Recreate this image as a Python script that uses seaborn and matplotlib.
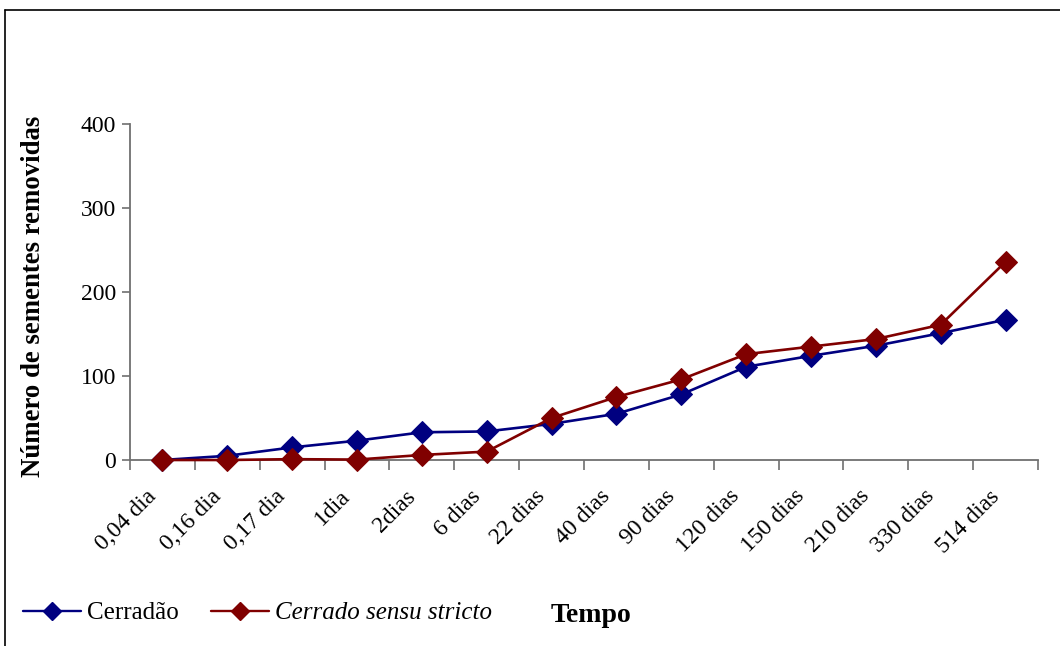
import numpy as np
import pandas as pd
import matplotlib
matplotlib.use("Agg")
import matplotlib.pyplot as plt
from matplotlib.lines import Line2D
from matplotlib.transforms import ScaledTranslation
import seaborn as sns

# Time points after seed offering
tempos = ["0,04 dia", "0,16 dia", "0,17 dia", "1dia", "2dias", "6 dias", "22 dias",
          "40 dias", "90 dias", "120 dias", "150 dias", "210 dias", "330 dias", "514 dias"]

# Cumulative number of removed seeds per vegetation type
cerradao = [0, 5, 15, 23, 33, 34, 43, 55, 78, 111, 124, 136, 151, 167]
cerrado_ss = [0, 0, 1, 0.5, 6, 10, 50, 75, 96, 126, 135, 144, 161, 236]

serie_nomes = ["Cerradão", "Cerrado sensu stricto"]
cores = ["#000080", "#800000"]
y_ticks = [0, 100, 200, 300, 400]

df = pd.DataFrame({
    "pos": list(range(len(tempos))) * 2,
    "valor": cerradao + cerrado_ss,
    "serie": [serie_nomes[0]] * len(tempos) + [serie_nomes[1]] * len(tempos),
})

sns.set_theme(style="white")
plt.rcParams["font.family"] = ["Liberation Serif", "DejaVu Serif"]
plt.rcParams["text.color"] = "black"
plt.rcParams["xtick.color"] = "black"
plt.rcParams["ytick.color"] = "black"
plt.rcParams["axes.labelcolor"] = "black"

fig = plt.figure(figsize=(10.6, 6.46), dpi=100)
ax = fig.add_axes([130 / 1060, 1 - 460 / 646, 908 / 1060, 336 / 646])

for nome, cor, z in zip(serie_nomes, cores, [2, 3]):
    sub = df[df["serie"] == nome]
    sns.lineplot(data=sub, x="pos", y="valor", color=cor, marker="D",
                 markersize=11.5, markeredgecolor=cor, linewidth=1.9,
                 ax=ax, legend=False, zorder=z, clip_on=False)

ax.set_xlim(-0.5, len(tempos) - 0.5)
ax.set_ylim(0, 400)
ax.set_yticks(y_ticks)
ax.set_yticklabels([str(v) for v in y_ticks], fontsize=17)

ax.set_xticks(range(len(tempos)))
ax.set_xticklabels(tempos, fontsize=17, rotation=45, ha="right", va="top",
                   rotation_mode="anchor")
ax.set_xticks(np.arange(-0.5, len(tempos)), minor=True)
ax.tick_params(axis="x", which="major", length=0, pad=23)
ax.tick_params(axis="x", which="minor", length=7, width=1.2, color="#707070",
               direction="out", bottom=True)
ax.tick_params(axis="y", length=6, width=1.2, color="#707070", direction="out",
               left=True, pad=4)

# Nudge the slanted category labels a little to the left
shift = ScaledTranslation(-17 / 100, 6 / 100, fig.dpi_scale_trans)
for lbl in ax.get_xticklabels():
    lbl.set_transform(lbl.get_transform() + shift)

for s in ["top", "right"]:
    ax.spines[s].set_visible(False)
for s in ["left", "bottom"]:
    ax.spines[s].set_color("#707070")
    ax.spines[s].set_linewidth(1.3)

ax.set_ylabel("Número de sementes removidas", fontsize=19.3, fontweight="bold")
ax.yaxis.set_label_coords(-0.0927, 0.487)
ax.set_xlabel("Tempo", fontsize=20, fontweight="bold")
ax.xaxis.set_label_coords(0.508, -0.425)

handles = [Line2D([0], [0], color=c, marker="D", markersize=9.5, linewidth=1.7,
                  markeredgecolor=c) for c in cores]
leg = fig.legend(handles, serie_nomes, loc="center left",
                 bbox_to_anchor=(23 / 1060, 1 - 613 / 646), ncol=2, frameon=False,
                 fontsize=18, handlelength=2.3, handletextpad=0.25,
                 columnspacing=1.3, borderpad=0, borderaxespad=0)
leg.get_texts()[1].set_fontstyle("italic")

# Outer frame around the chart area
fig.add_artist(Line2D([5 / 1060, 5 / 1060], [0, 1 - 10 / 646], color="black",
                      linewidth=1.2, transform=fig.transFigure))
fig.add_artist(Line2D([5 / 1060, 1], [1 - 10 / 646, 1 - 10 / 646], color="black",
                      linewidth=1.2, transform=fig.transFigure))

fig.savefig("out.png", dpi=100, facecolor="white")
